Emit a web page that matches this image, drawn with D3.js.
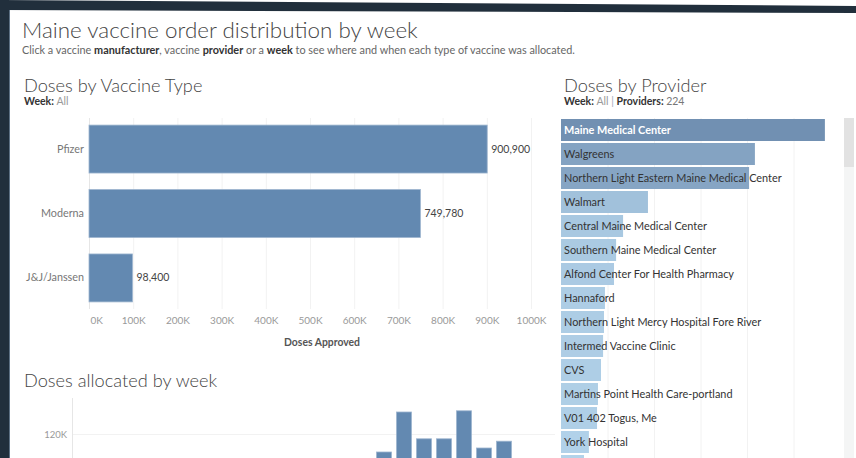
<!DOCTYPE html>
<html>
<head>
<meta charset="utf-8">
<script src="https://cdn.jsdelivr.net/npm/d3@7"></script>
<style>
body { margin: 0; background: #fff; }
svg { display: block; font-family: Lato, "Open Sans", sans-serif; }
.light { font-family: "Lato Light", "Lato Hairline", Lato, sans-serif; font-weight: 300; }
</style>
</head>
<body>
<script>
// vaccine type totals
var vaccines = ["Pfizer", "Moderna", "J&J/Janssen"];
var vaccineDoses = [900900, 749780, 98400];
var doseTicks = [0, 100000, 200000, 300000, 400000, 500000, 600000, 700000, 800000, 900000, 1000000];

// top providers (list is scrolled, only first rows visible)
var providers = ["Maine Medical Center", "Walgreens", "Northern Light Eastern Maine Medical Center", "Walmart",
    "Central Maine Medical Center", "Southern Maine Medical Center", "Alfond Center For Health Pharmacy", "Hannaford",
    "Northern Light Mercy Hospital Fore River", "Intermed Vaccine Clinic", "CVS", "Martins Point Health Care-portland",
    "V01 402 Togus, Me", "York Hospital", "MaineGeneral Medical Center"];
var providerDoses = [113500, 83400, 80900, 37400, 26700, 23700, 22800, 18900, 18500, 18100, 17200, 15900, 15500, 12000, 9900];
var providerTicks = [0, 20000, 40000, 60000, 80000, 100000];

// weekly allocation
var weeks = ["12/14", "12/21", "12/28", "1/4", "1/11", "1/18", "1/25", "2/1", "2/8", "2/15", "2/22", "3/1",
    "3/8", "3/15", "3/22", "3/29", "4/5", "4/12", "4/19", "4/26", "5/3", "5/10", "5/17", "5/24"];
var weekDoses = [22000, 38000, 30000, 36000, 41000, 45000, 48000, 52000, 55000, 63000, 70000, 75000,
    82000, 86000, 88000, 97500, 147500, 114000, 114000, 149000, 102500, 111000, 52000, 30000];
var weekTicks = [0, 60000, 120000];

var w = 856;
var h = 458;
var barBlue = "#6389b1";

var svg = d3.select("body")
    .append("svg")
    .attr("width", w)
    .attr("height", h);

var drawFrame = function () {
    svg.append("rect").attr("width", w).attr("height", h).attr("fill", "#fff");
    svg.append("path")
        .attr("d", "M0,0 L856,6 L856,13 L0,10 Z")
        .attr("fill", "#212f3c");
    svg.append("rect").attr("x", 0).attr("y", 0).attr("width", 9).attr("height", h).attr("fill", "#212f3c");
    svg.append("line").attr("x1", 9.5).attr("x2", 9.5).attr("y1", 10).attr("y2", h)
        .attr("stroke", "#5d7083").attr("stroke-width", 1);

    svg.append("text")
        .attr("class", "light")
        .attr("x", 22).attr("y", 38)
        .style("font-size", "22.4px").attr("fill", "#444")
        .text("Maine vaccine order distribution by week");

    var sub = svg.append("text")
        .attr("x", 22).attr("y", 54)
        .style("font-size", "10.85px").attr("fill", "#555");
    var parts = [["Click a vaccine ", 400], ["manufacturer", 700], [", vaccine ", 400], ["provider", 700],
        [" or a ", 400], ["week", 700], [" to see where and when each type of vaccine was allocated.", 400]];
    parts.forEach(function (p) {
        sub.append("tspan").style("font-weight", p[1]).attr("fill", p[1] > 400 ? "#333" : "#666").text(p[0]);
    });
}

var addHeading = function (x, y, title, labels) {
    svg.append("text")
        .attr("class", "light")
        .attr("x", x).attr("y", y)
        .style("font-size", "18.2px").attr("fill", "#444")
        .text(title);
    if (labels) {
        var t = svg.append("text").attr("x", x).attr("y", y + 13).style("font-size", "10.5px");
        labels.forEach(function (p) {
            t.append("tspan").style("font-weight", p[1]).attr("fill", p[2]).text(p[0]);
        });
    }
}

var drawVaccineChart = function () {
    addHeading(24, 92, "Doses by Vaccine Type", [["Week: ", 700, "#333"], ["All", 400, "#999"]]);

    var x = d3.scaleLinear().domain([0, 1000000]).range([89, 531]);
    var y = d3.scaleBand().domain(vaccines).range([118, 309]).paddingInner(0.256).paddingOuter(0.11);

    svg.append("g").selectAll("line")
        .data(doseTicks)
        .enter()
        .append("line")
        .attr("x1", (d) => { return x(d) + 0.5 })
        .attr("x2", (d) => { return x(d) + 0.5 })
        .attr("y1", 118).attr("y2", 309)
        .attr("stroke", (d) => { return d == 0 ? "#e6e6e6" : "#f2f2f2" });

    svg.append("g").selectAll("rect")
        .data(vaccines)
        .enter()
        .append("rect")
        .attr("x", x(0))
        .attr("y", (d) => { return y(d) })
        .attr("width", (d, i) => { return x(vaccineDoses[i]) - x(0) })
        .attr("height", y.bandwidth())
        .attr("fill", barBlue)
        .attr("stroke", "#9db5cf").attr("stroke-width", 0.8);

    svg.append("g").selectAll("text")
        .data(vaccines)
        .enter()
        .append("text")
        .attr("x", 84)
        .attr("y", (d) => { return y(d) + y.bandwidth() / 2 + 3.5 })
        .attr("text-anchor", "end")
        .style("font-size", "10.8px").attr("fill", "#777")
        .text((d) => { return d });

    svg.append("g").selectAll("text")
        .data(vaccines)
        .enter()
        .append("text")
        .attr("x", (d, i) => { return x(vaccineDoses[i]) + 4 })
        .attr("y", (d) => { return y(d) + y.bandwidth() / 2 + 3.5 })
        .style("font-size", "10.5px").attr("fill", "#444")
        .text((d, i) => { return d3.format(",")(vaccineDoses[i]) });

    var axis = d3.axisBottom(x)
        .tickValues(doseTicks)
        .tickSize(0)
        .tickFormat((d) => { return (d / 1000) + "K" });
    var ax = svg.append("g").attr("transform", "translate(0,314)").call(axis);
    ax.select(".domain").remove();
    ax.selectAll("text")
        .style("font-family", "Lato, 'Open Sans', sans-serif")
        .style("font-size", "10px").attr("fill", "#999");
    ax.selectAll(".tick").filter((d) => { return d == 0 }).select("text")
        .attr("text-anchor", "start").attr("x", 1);

    svg.append("text")
        .attr("x", 322).attr("y", 346)
        .attr("text-anchor", "middle")
        .style("font-size", "10.4px").style("font-weight", 700).attr("fill", "#555")
        .text("Doses Approved");
}

var drawProviderChart = function () {
    addHeading(564, 92, "Doses by Provider",
        [["Week: ", 700, "#333"], ["All", 400, "#999"], [" | ", 400, "#9ab"], ["Providers: ", 700, "#333"], ["224", 400, "#777"]]);

    var x = d3.scaleLinear().domain([0, 120000]).range([561, 840]);
    var y = d3.scaleBand().domain(providers).range([118, 118 + 24 * providers.length])
        .paddingInner(2 / 24).paddingOuter(1 / 24);
    var color = d3.scaleLinear().domain([0, d3.max(providerDoses)]).range(["#b9d9ef", "#7190b2"]);

    svg.append("g").selectAll("line")
        .data(providerTicks.slice(1))
        .enter()
        .append("line")
        .attr("x1", (d) => { return x(d) + 0.5 })
        .attr("x2", (d) => { return x(d) + 0.5 })
        .attr("y1", 118).attr("y2", h)
        .attr("stroke", "#f2f2f2");

    svg.append("g").selectAll("rect")
        .data(providers)
        .enter()
        .append("rect")
        .attr("x", x(0))
        .attr("y", (d) => { return y(d) })
        .attr("width", (d, i) => { return x(providerDoses[i]) - x(0) })
        .attr("height", y.bandwidth())
        .attr("fill", (d, i) => { return color(providerDoses[i]) });

    // only the rows that fit in the scroll pane get a label
    svg.append("g").selectAll("text")
        .data(providers.filter((d) => { return y(d) + y.bandwidth() <= h }))
        .enter()
        .append("text")
        .attr("x", 564)
        .attr("y", (d) => { return y(d) + y.bandwidth() / 2 + 3.8 })
        .style("font-size", "10.9px")
        .style("font-weight", (d, i) => { return i == 0 ? 700 : 400 })
        .attr("fill", (d, i) => { return i == 0 ? "#fff" : "#333" })
        .text((d) => { return d });

    // scrollbar
    svg.append("rect").attr("x", 844).attr("y", 118).attr("width", 10).attr("height", h - 118).attr("fill", "#f4f5f5");
    svg.append("rect").attr("x", 844).attr("y", 118).attr("width", 10).attr("height", 49).attr("fill", "#e2e2e2");
}

var drawWeekChart = function () {
    addHeading(24, 387, "Doses allocated by week");

    var x = d3.scaleBand().domain(weeks).range([74, 554]).paddingInner(0.25).paddingOuter(0.125);
    var y = d3.scaleLinear().domain([0, 165000]).range([530, 398]);

    svg.append("g").selectAll("line")
        .data(weekTicks)
        .enter()
        .append("line")
        .attr("x1", 72).attr("x2", 555)
        .attr("y1", (d) => { return Math.round(y(d)) + 0.5 })
        .attr("y2", (d) => { return Math.round(y(d)) + 0.5 })
        .attr("stroke", "#f2f2f2");

    svg.append("line")
        .attr("x1", 72.5).attr("x2", 72.5).attr("y1", 398).attr("y2", h)
        .attr("stroke", "#e6e6e6");

    svg.append("g").selectAll("rect")
        .data(weeks)
        .enter()
        .append("rect")
        .attr("x", (d) => { return x(d) })
        .attr("y", (d, i) => { return y(weekDoses[i]) })
        .attr("width", x.bandwidth())
        .attr("height", (d, i) => { return y(0) - y(weekDoses[i]) })
        .attr("fill", barBlue)
        .attr("stroke", "#9db5cf").attr("stroke-width", 0.8);

    // the pane is cut at the bottom, so only the ticks inside it are labelled
    svg.append("g").selectAll("text")
        .data(weekTicks.filter((d) => { return y(d) + 4 < h }))
        .enter()
        .append("text")
        .attr("x", 67)
        .attr("y", (d) => { return y(d) + 3.5 })
        .attr("text-anchor", "end")
        .style("font-size", "9.5px").attr("fill", "#999")
        .text((d) => { return (d / 1000) + "K" });
}

drawFrame();
drawVaccineChart();
drawProviderChart();
drawWeekChart();
</script>
</body>
</html>
